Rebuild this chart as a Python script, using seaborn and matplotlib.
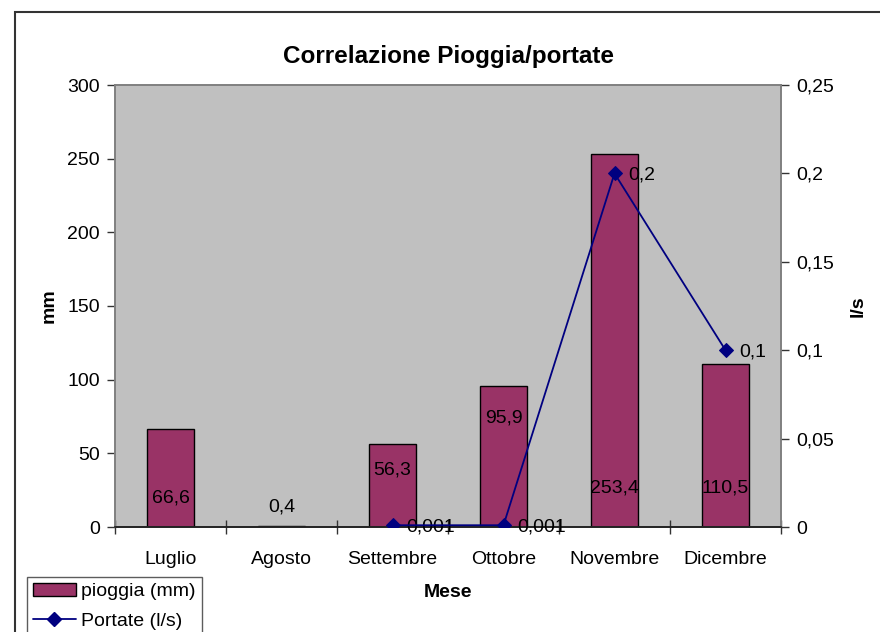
import matplotlib
matplotlib.use("Agg")
import matplotlib.pyplot as plt
import matplotlib.patches as mpatches
from matplotlib.lines import Line2D
from matplotlib.ticker import FuncFormatter, FixedLocator
import numpy as np
import pandas as pd
import seaborn as sns

# Monthly rainfall and spring discharge
mesi = ["Luglio", "Agosto", "Settembre", "Ottobre", "Novembre", "Dicembre"]
pioggia_mm = [66.6, 0.4, 56.3, 95.9, 253.4, 110.5]
portate_ls = [np.nan, np.nan, 0.001, 0.001, 0.2, 0.1]
portate_etichette = ["", "", "0,001", "0,001", "0,2", "0,1"]
# height (mm) at which each rainfall value is printed
pioggia_etichetta_y = [19.7, 13.6, 38.7, 74.0, 26.5, 26.5]

sns.set_theme(style="white")
plt.rcParams["font.family"] = ["Liberation Sans", "DejaVu Sans"]
plt.rcParams.update({"text.color": "black", "axes.labelcolor": "black",
                     "xtick.color": "black", "ytick.color": "black"})

BAR = "#993366"
LINE = "#000080"
GRID_BG = "#C0C0C0"
SPINE = "#808080"

df = pd.DataFrame({"Mese": mesi, "pioggia": pioggia_mm})

fig = plt.figure(figsize=(8.8, 6.32), dpi=100)
ax = fig.add_axes([115 / 880, 105 / 632, 666 / 880, 442 / 632])
ax.set_facecolor(GRID_BG)

sns.barplot(data=df, x="Mese", y="pioggia", color=BAR, edgecolor="black",
            linewidth=1.0, width=0.42, saturation=1, ax=ax, zorder=2)
ax.set_xlim(-0.5, len(mesi) - 0.5)
ax.set_ylim(0, 300)
ax.set_yticks(np.arange(0, 301, 50))

for i, (v, ly) in enumerate(zip(pioggia_mm, pioggia_etichetta_y)):
    ax.text(i, ly, f"{v:.1f}".replace(".", ","), ha="center", va="center",
            fontsize=14, color="black", zorder=5)

ax2 = ax.twinx()
x_pos = np.arange(len(mesi))
sns.lineplot(x=x_pos, y=portate_ls, ax=ax2, color=LINE, linewidth=1.3,
             marker="D", markersize=7, markeredgecolor=LINE, zorder=4)
ax2.set_ylim(0, 0.25)
ax2.set_yticks([0, 0.05, 0.1, 0.15, 0.2, 0.25])
ax2.yaxis.set_major_formatter(
    FuncFormatter(lambda v, p: ("%g" % round(v, 3)).replace(".", ",")))
for i, (v, t) in enumerate(zip(portate_ls, portate_etichette)):
    if t:
        ax2.annotate(t, (i, v), xytext=(10, -1.5), textcoords="offset points",
                     ha="left", va="center", fontsize=14, color="black")
ax2.set_xlim(-0.5, len(mesi) - 0.5)

# axes styling
for a in (ax, ax2):
    for s in a.spines.values():
        s.set_color(SPINE)
        s.set_linewidth(1.2)
ax.spines["bottom"].set_color("#222222")
ax2.spines["bottom"].set_color("#222222")

ax.set_xticks(x_pos)
ax.set_xticklabels(mesi)
ax.xaxis.set_minor_locator(FixedLocator(np.arange(-0.5, len(mesi), 1.0)))
ax.tick_params(axis="x", which="major", length=0, pad=17, labelsize=14)
ax.tick_params(axis="x", which="minor", direction="inout", length=10,
               width=1, color="#333333", bottom=True)
ax.tick_params(axis="y", which="major", direction="out", length=6, width=1,
               color="#333333", pad=5, labelsize=14, left=True)
ax2.tick_params(axis="y", which="major", direction="out", length=6, width=1,
                color="#333333", pad=5, labelsize=14, right=True)

ax.set_xlabel("Mese", fontsize=14, fontweight="bold", labelpad=12)
ax.set_ylabel("mm", fontsize=14, fontweight="bold", labelpad=7)
ax2.set_ylabel("l/s", fontsize=14, fontweight="bold", labelpad=11)
ax.set_title("Correlazione Pioggia/portate", fontsize=17.5,
             fontweight="bold", pad=16)

# legend
handles = [
    mpatches.Patch(facecolor=BAR, edgecolor="black", linewidth=1.0,
                   label="pioggia (mm)"),
    Line2D([0], [0], color=LINE, linewidth=1.3, marker="D", markersize=7,
           label="Portate (l/s)"),
]
leg = fig.legend(handles=handles, loc="upper left",
                 bbox_to_anchor=(27 / 880, 1 - 577 / 632), fontsize=14,
                 frameon=True, fancybox=False, edgecolor="#333333",
                 borderpad=0.3, labelspacing=0.6, handlelength=2.2,
                 handletextpad=0.3, borderaxespad=0)
leg.get_frame().set_linewidth(1.0)

# chart-area border
fig.add_artist(mpatches.Rectangle((15 / 880, -0.05), 1.2, 1 - 12 / 632 + 0.05,
                                  transform=fig.transFigure, fill=False,
                                  edgecolor="#333333", linewidth=1.5))

fig.savefig("out.png", dpi=100)
